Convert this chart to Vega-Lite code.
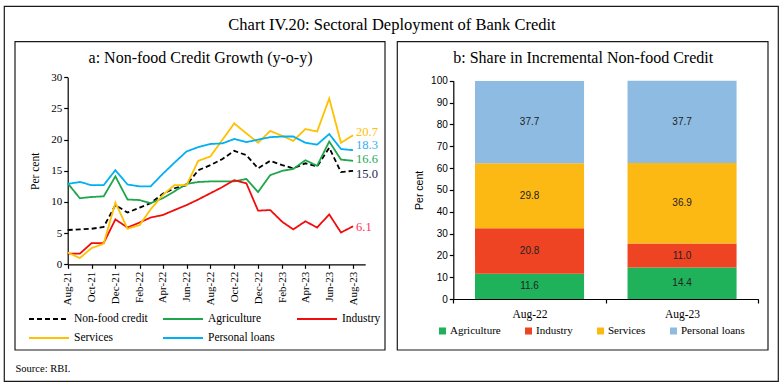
{
  "$schema": "https://vega.github.io/schema/vega-lite/v6.json",
  "width": 774,
  "height": 375,
  "autosize": {"type": "none"},
  "padding": {"left": 4, "top": 6, "right": 6, "bottom": 6},
  "background": "#ffffff",
  "config": {
    "view": {"stroke": "#1a1a1a", "strokeWidth": 1.2},
    "axis": {"grid": false, "domainColor": "#000000", "tickColor": "#000000", "labelColor": "#000000", "titleColor": "#000000", "labelFont": "Liberation Serif", "titleFont": "Liberation Serif", "titleFontWeight": "normal", "domainWidth": 1.2, "tickWidth": 1.2},
    "legend": {"labelColor": "#000000", "labelFont": "Liberation Serif", "labelFontWeight": "normal"}
  },
  "datasets": {
    "growth": [
      {"month": "2021-08-01", "Non-food credit": 5.5, "Agriculture": 13.0, "Industry": 1.7, "Services": 1.9, "Personal loans": 12.9},
      {"month": "2021-09-01", "Non-food credit": 5.6, "Agriculture": 10.6, "Industry": 1.7, "Services": 1.0, "Personal loans": 13.2},
      {"month": "2021-10-01", "Non-food credit": 5.7, "Agriculture": 10.8, "Industry": 3.4, "Services": 2.6, "Personal loans": 12.7},
      {"month": "2021-11-01", "Non-food credit": 6.0, "Agriculture": 10.9, "Industry": 3.4, "Services": 3.3, "Personal loans": 12.7},
      {"month": "2021-12-01", "Non-food credit": 9.5, "Agriculture": 14.1, "Industry": 7.2, "Services": 9.9, "Personal loans": 15.1},
      {"month": "2022-01-01", "Non-food credit": 8.3, "Agriculture": 10.4, "Industry": 5.9, "Services": 5.7, "Personal loans": 12.8},
      {"month": "2022-02-01", "Non-food credit": 9.1, "Agriculture": 10.3, "Industry": 6.7, "Services": 6.3, "Personal loans": 12.5},
      {"month": "2022-03-01", "Non-food credit": 9.8, "Agriculture": 9.8, "Industry": 7.5, "Services": 8.8, "Personal loans": 12.5},
      {"month": "2022-04-01", "Non-food credit": 11.3, "Agriculture": 10.6, "Industry": 7.9, "Services": 11.1, "Personal loans": 14.5},
      {"month": "2022-05-01", "Non-food credit": 12.2, "Agriculture": 11.7, "Industry": 8.7, "Services": 12.7, "Personal loans": 16.3},
      {"month": "2022-06-01", "Non-food credit": 12.7, "Agriculture": 12.9, "Industry": 9.5, "Services": 12.7, "Personal loans": 18.1},
      {"month": "2022-07-01", "Non-food credit": 15.1, "Agriculture": 13.2, "Industry": 10.4, "Services": 16.6, "Personal loans": 18.8},
      {"month": "2022-08-01", "Non-food credit": 15.9, "Agriculture": 13.3, "Industry": 11.4, "Services": 17.3, "Personal loans": 19.3},
      {"month": "2022-09-01", "Non-food credit": 16.9, "Agriculture": 13.3, "Industry": 12.4, "Services": 20.0, "Personal loans": 19.4},
      {"month": "2022-10-01", "Non-food credit": 18.2, "Agriculture": 13.3, "Industry": 13.5, "Services": 22.6, "Personal loans": 20.1},
      {"month": "2022-11-01", "Non-food credit": 17.5, "Agriculture": 13.7, "Industry": 13.0, "Services": 21.0, "Personal loans": 19.6},
      {"month": "2022-12-01", "Non-food credit": 15.4, "Agriculture": 11.6, "Industry": 8.6, "Services": 19.5, "Personal loans": 20.0},
      {"month": "2023-01-01", "Non-food credit": 16.6, "Agriculture": 14.3, "Industry": 8.7, "Services": 21.4, "Personal loans": 20.4},
      {"month": "2023-02-01", "Non-food credit": 15.9, "Agriculture": 15.0, "Industry": 6.8, "Services": 20.6, "Personal loans": 20.5},
      {"month": "2023-03-01", "Non-food credit": 15.4, "Agriculture": 15.3, "Industry": 5.6, "Services": 19.8, "Personal loans": 20.5},
      {"month": "2023-04-01", "Non-food credit": 16.2, "Agriculture": 16.7, "Industry": 6.9, "Services": 21.7, "Personal loans": 19.5},
      {"month": "2023-05-01", "Non-food credit": 15.7, "Agriculture": 15.8, "Industry": 5.9, "Services": 21.3, "Personal loans": 19.2},
      {"month": "2023-06-01", "Non-food credit": 18.7, "Agriculture": 19.7, "Industry": 8.0, "Services": 26.6, "Personal loans": 20.9},
      {"month": "2023-07-01", "Non-food credit": 14.8, "Agriculture": 16.8, "Industry": 5.1, "Services": 19.5, "Personal loans": 18.5},
      {"month": "2023-08-01", "Non-food credit": 15.0, "Agriculture": 16.6, "Industry": 6.1, "Services": 20.7, "Personal loans": 18.3}
    ],
    "share": [
      {"month": "Aug-22", "sector": "Agriculture", "share": 11.6},
      {"month": "Aug-22", "sector": "Industry", "share": 20.8},
      {"month": "Aug-22", "sector": "Services", "share": 29.8},
      {"month": "Aug-22", "sector": "Personal loans", "share": 37.7},
      {"month": "Aug-23", "sector": "Agriculture", "share": 14.4},
      {"month": "Aug-23", "sector": "Industry", "share": 11.0},
      {"month": "Aug-23", "sector": "Services", "share": 36.9},
      {"month": "Aug-23", "sector": "Personal loans", "share": 37.7}
    ]
  },
  "layer": [
    {
      "data": {"name": "growth"},
      "transform": [{"fold": ["Non-food credit", "Agriculture", "Industry", "Services", "Personal loans"], "as": ["series", "value"]}],
      "encoding": {
        "x": {
          "field": "month", "type": "temporal",
          "scale": {"type": "utc", "domain": [{"year": 2021, "month": 8, "date": 1, "utc": true}, {"year": 2023, "month": 9, "date": 1, "utc": true}], "range": [63.7, 361.2]},
          "axis": {
            "orient": "bottom", "offset": -116.7, "title": null,
            "values": [
              {"year": 2021, "month": 8, "date": 1, "utc": true},
              {"year": 2021, "month": 10, "date": 1, "utc": true},
              {"year": 2021, "month": 12, "date": 1, "utc": true},
              {"year": 2022, "month": 2, "date": 1, "utc": true},
              {"year": 2022, "month": 4, "date": 1, "utc": true},
              {"year": 2022, "month": 6, "date": 1, "utc": true},
              {"year": 2022, "month": 8, "date": 1, "utc": true},
              {"year": 2022, "month": 10, "date": 1, "utc": true},
              {"year": 2022, "month": 12, "date": 1, "utc": true},
              {"year": 2023, "month": 2, "date": 1, "utc": true},
              {"year": 2023, "month": 4, "date": 1, "utc": true},
              {"year": 2023, "month": 6, "date": 1, "utc": true},
              {"year": 2023, "month": 8, "date": 1, "utc": true}
            ],
            "format": "%b-%y", "labelAngle": 270, "labelFontSize": 11, "labelPadding": 3, "tickSize": 4, "labelOverlap": false, "labelFlush": false
          }
        },
        "y": {
          "field": "value", "type": "quantitative",
          "scale": {"domain": [0, 30], "range": [258.3, 71.3], "nice": false, "zero": false},
          "axis": {"orient": "left", "offset": -63.7, "values": [0, 5, 10, 15, 20, 25, 30], "title": "Per cent", "titleFontSize": 11.5, "titlePadding": 10, "labelFontSize": 11, "labelPadding": 2, "tickSize": 4}
        }
      },
      "layer": [
        {
          "mark": {"type": "line", "strokeWidth": 1.8},
          "encoding": {
            "color": {
              "field": "series", "type": "nominal",
              "scale": {"domain": ["Non-food credit", "Agriculture", "Industry", "Services", "Personal loans"], "range": ["#000000", "#1ea64b", "#f20d0d", "#ffc000", "#00b0f0"]},
              "legend": {
                "orient": "none", "legendX": 24, "legendY": 307, "direction": "horizontal", "columns": 3, "title": null,
                "symbolType": "stroke", "symbolSize": 1600, "symbolStrokeWidth": 2, "labelOffset": 4, "columnPadding": 14, "rowPadding": 7, "gridAlign": "all",
                "labelFontSize": 11.5, "labelFontWeight": "normal", "clipHeight": 12, "padding": 0,
                "encode": {"symbols": {"update": {"strokeDash": {"signal": "datum.value === 'Non-food credit' ? [5, 3] : [1, 0]"}}}}
              }
            },
            "strokeDash": {
              "field": "series", "type": "nominal",
              "scale": {"domain": ["Non-food credit", "Agriculture", "Industry", "Services", "Personal loans"], "range": [[5, 3], [1, 0], [1, 0], [1, 0], [1, 0]]},
              "legend": null
            }
          }
        },
        {
          "transform": [{"filter": "datum.series === 'Services' && utcyear(datum.month) === 2023 && utcmonth(datum.month) === 7"}],
          "mark": {"type": "text", "align": "left", "baseline": "middle", "dx": 3, "dy": -3, "font": "Liberation Serif", "fontSize": 12.5, "color": "#ffc000"},
          "encoding": {"text": {"field": "value", "type": "quantitative", "format": ".1f"}}
        },
        {
          "transform": [{"filter": "datum.series === 'Personal loans' && utcyear(datum.month) === 2023 && utcmonth(datum.month) === 7"}],
          "mark": {"type": "text", "align": "left", "baseline": "middle", "dx": 3, "dy": -5, "font": "Liberation Serif", "fontSize": 12.5, "color": "#35aef0"},
          "encoding": {"text": {"field": "value", "type": "quantitative", "format": ".1f"}}
        },
        {
          "transform": [{"filter": "datum.series === 'Agriculture' && utcyear(datum.month) === 2023 && utcmonth(datum.month) === 7"}],
          "mark": {"type": "text", "align": "left", "baseline": "middle", "dx": 3, "dy": -2, "font": "Liberation Serif", "fontSize": 12.5, "color": "#22a857"},
          "encoding": {"text": {"field": "value", "type": "quantitative", "format": ".1f"}}
        },
        {
          "transform": [{"filter": "datum.series === 'Non-food credit' && utcyear(datum.month) === 2023 && utcmonth(datum.month) === 7"}],
          "mark": {"type": "text", "align": "left", "baseline": "middle", "dx": 3, "dy": 3, "font": "Liberation Serif", "fontSize": 12.5, "color": "#1c2452"},
          "encoding": {"text": {"field": "value", "type": "quantitative", "format": ".1f"}}
        },
        {
          "transform": [{"filter": "datum.series === 'Industry' && utcyear(datum.month) === 2023 && utcmonth(datum.month) === 7"}],
          "mark": {"type": "text", "align": "left", "baseline": "middle", "dx": 3, "dy": 1, "font": "Liberation Serif", "fontSize": 12.5, "color": "#ff2d55"},
          "encoding": {"text": {"field": "value", "type": "quantitative", "format": ".1f"}}
        }
      ]
    },
    {
      "data": {"name": "share"},
      "transform": [{"window": [{"op": "row_number", "as": "stack_rank"}], "groupby": ["month"]}],
      "encoding": {
        "x": {
          "field": "month", "type": "nominal",
          "scale": {"type": "band", "domain": ["Aug-22", "Aug-23"], "range": [449.3, 754.3], "paddingInner": 0, "paddingOuter": 0},
          "axis": {"orient": "bottom", "offset": -82, "title": null, "tickBand": "extent", "tickSize": 4, "labelAngle": 0, "labelFontSize": 11.5, "labelPadding": 5}
        },
        "y": {
          "field": "share", "type": "quantitative", "stack": "zero",
          "scale": {"domain": [0, 100], "range": [293, 74.7], "nice": false, "zero": false},
          "axis": {"orient": "left", "offset": -449.3, "values": [0, 10, 20, 30, 40, 50, 60, 70, 80, 90, 100], "title": "Per cent", "titleFont": "Liberation Sans", "titleFontSize": 10.5, "titlePadding": 6, "labelFont": "Liberation Sans", "labelFontSize": 10, "labelPadding": 2, "tickSize": 4}
        },
        "order": {"field": "stack_rank", "type": "quantitative"}
      },
      "layer": [
        {
          "mark": {"type": "bar", "width": {"band": 0.715}},
          "encoding": {
            "color": {
              "field": "sector", "type": "nominal",
              "scale": {"domain": ["Agriculture", "Industry", "Services", "Personal loans"], "range": ["#1fb25a", "#ee4423", "#fdb913", "#8dbbe1"]},
              "legend": {"orient": "none", "legendX": 433, "legendY": 320, "direction": "horizontal", "title": null, "symbolType": "square", "symbolSize": 49, "symbolStrokeWidth": 0, "labelOffset": 2, "columnPadding": 22, "labelFontSize": 11, "labelFontWeight": "normal", "clipHeight": 10, "padding": 0}
            }
          }
        },
        {
          "mark": {"type": "text", "font": "Liberation Sans", "fontSize": 10, "color": "#222222", "baseline": "middle"},
          "encoding": {
            "y": {"field": "share", "type": "quantitative", "stack": "zero", "bandPosition": 0.5, "scale": {"domain": [0, 100], "range": [293, 74.7], "nice": false, "zero": false}},
            "detail": {"field": "sector", "type": "nominal"},
            "text": {"field": "share", "type": "quantitative", "format": ".1f"}
          }
        }
      ]
    },
    {
      "data": {"values": [{}]},
      "mark": {"type": "rect", "filled": false, "stroke": "#1a1a1a", "strokeWidth": 1.2},
      "encoding": {
        "x": {"datum": 0, "type": "quantitative", "scale": {"domain": [0, 1], "range": [11, 381], "nice": false, "zero": false},
          "axis": {"orient": "top", "domain": false, "ticks": false, "labels": false, "grid": false, "title": "a: Non-food Credit Growth (y-o-y)", "titleY": 51, "titleBaseline": "middle", "titleFontSize": 16}},
        "x2": {"datum": 1},
        "y": {"datum": 0, "type": "quantitative", "scale": {"domain": [0, 1], "range": [35.7, 344], "nice": false, "zero": false},
          "axis": {"orient": "left", "domain": false, "ticks": false, "labels": false, "grid": false, "title": "Source: RBI.", "titleAngle": 0, "titleX": 11, "titleY": 362, "titleAlign": "left", "titleBaseline": "middle", "titleFontSize": 10.5}},
        "y2": {"datum": 1}
      }
    },
    {
      "data": {"values": [{}]},
      "mark": {"type": "rect", "filled": false, "stroke": "#1a1a1a", "strokeWidth": 1.2},
      "encoding": {
        "x": {"datum": 0, "type": "quantitative", "scale": {"domain": [0, 1], "range": [393.3, 764], "nice": false, "zero": false},
          "axis": {"orient": "top", "domain": false, "ticks": false, "labels": false, "grid": false, "title": "b: Share in Incremental Non-food Credit", "titleY": 51, "titleBaseline": "middle", "titleFontSize": 16}},
        "x2": {"datum": 1},
        "y": {"datum": 0, "type": "quantitative", "scale": {"domain": [0, 1], "range": [35.7, 344], "nice": false, "zero": false},
          "axis": {"orient": "left", "domain": false, "ticks": false, "labels": false, "grid": false, "title": "Chart IV.20: Sectoral Deployment of Bank Credit", "titleAngle": 0, "titleX": 387.5, "titleY": 18, "titleAlign": "center", "titleBaseline": "middle", "titleFontSize": 16.5}},
        "y2": {"datum": 1}
      }
    }
  ],
  "resolve": {"scale": {"x": "independent", "y": "independent", "color": "independent"}}
}
